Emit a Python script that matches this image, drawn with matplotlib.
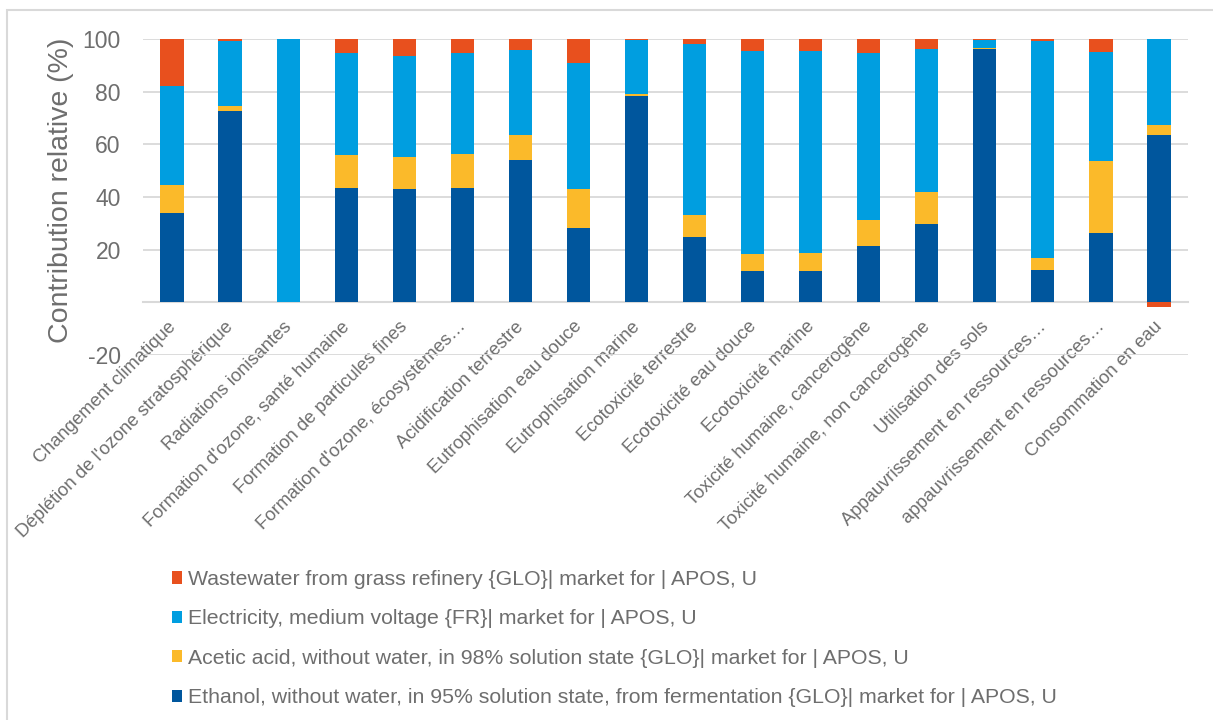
import matplotlib
matplotlib.use("Agg")
import matplotlib.pyplot as plt
from matplotlib.patches import Patch, Rectangle
from matplotlib.transforms import ScaledTranslation
import numpy as np

plt.rcParams["font.family"] = ["Liberation Sans", "DejaVu Sans"]

categories = [
    "Changement climatique",
    "Déplétion de l'ozone stratosphérique",
    "Radiations ionisantes",
    "Formation d'ozone, santé humaine",
    "Formation de particules fines",
    "Formation d'ozone, écosystèmes…",
    "Acidification terrestre",
    "Eutrophisation eau douce",
    "Eutrophisation marine",
    "Ecotoxicité terrestre",
    "Ecotoxicité eau douce",
    "Ecotoxicité marine",
    "Toxicité humaine, cancerogène",
    "Toxicité humaine, non cancerogène",
    "Utilisation des sols",
    "Appauvrissement en ressources…",
    "appauvrissement en ressources…",
    "Consommation en eau",
]

# relative contributions (%) per process
ethanol = np.array([34.0, 72.7, 0.0, 43.3, 43.0, 43.3, 54.1, 28.4, 78.2,
                    24.8, 11.9, 11.9, 21.4, 29.8, 96.3, 12.3, 26.2, 63.5])
acetic = np.array([10.7, 1.8, 0.0, 12.6, 12.1, 13.2, 9.5, 14.8, 0.8,
                   8.2, 6.4, 6.9, 9.8, 12.1, 0.3, 4.6, 27.4, 3.8])
electricity = np.array([37.3, 24.9, 100.0, 38.7, 38.3, 38.1, 32.1, 47.8, 20.8,
                        65.3, 77.3, 76.8, 63.6, 54.4, 3.2, 82.5, 41.3, 32.7])
wastewater = np.array([18.0, 0.6, 0.0, 5.4, 6.6, 5.4, 4.3, 9.0, 0.2,
                       1.7, 4.4, 4.4, 5.2, 3.7, 0.2, 0.6, 5.1, -1.8])

series_names = [
    "Ethanol, without water, in 95% solution state, from fermentation {GLO}| market for | APOS, U",
    "Acetic acid, without water, in 98% solution state {GLO}| market for | APOS, U",
    "Electricity, medium voltage {FR}| market for | APOS, U",
    "Wastewater from grass refinery {GLO}| market for | APOS, U",
]
series_colors = ["#00569D", "#FBBA2A", "#009EE0", "#E8501E"]

TEXT = "#6E6E6E"
GRID = "#D9D9D9"

fig = plt.figure(figsize=(12.13, 7.2), dpi=100)
ax = fig.add_axes([0.1179, 0.5069, 0.8615, 0.4389])

x = np.arange(len(categories))
w = 0.4
ax.bar(x, ethanol, w, color=series_colors[0], lw=0)
ax.bar(x, acetic, w, bottom=ethanol, color=series_colors[1], lw=0)
ax.bar(x, electricity, w, bottom=ethanol + acetic, color=series_colors[2], lw=0)
red_bottom = np.where(wastewater >= 0, ethanol + acetic + electricity, 0)
ax.bar(x, wastewater, w, bottom=red_bottom, color=series_colors[3], lw=0)

ax.set_xlim(-0.5, len(categories) - 0.5)
ax.set_ylim(-20, 100)
yt = [-20, 0, 20, 40, 60, 80, 100]
ax.set_yticks(yt)
ax.set_yticklabels(["" if v == 0 else str(v) for v in yt])
ax.grid(axis="y", color=GRID, lw=1.3)
ax.set_axisbelow(True)
for s in ["top", "right", "left"]:
    ax.spines[s].set_visible(False)
ax.spines["bottom"].set_position(("data", 0))
ax.spines["bottom"].set_color(GRID)
ax.spines["bottom"].set_linewidth(1.5)
ax.spines["bottom"].set_zorder(0.5)

ax.tick_params(axis="y", length=0, pad=16, labelsize=16.5, labelcolor=TEXT)
ax.tick_params(axis="x", length=0, pad=2, labelsize=13.2, labelcolor=TEXT)
ax.set_xticks(x)
ax.set_xticklabels(categories, rotation=45, ha="right", va="center",
                   rotation_mode="anchor")
off = ScaledTranslation(1 / 100, -19 / 100, fig.dpi_scale_trans)
for lbl in ax.get_xticklabels():
    lbl.set_transform(lbl.get_transform() + off)

ax.set_ylabel("Contribution relative (%)", fontsize=20.5, color=TEXT)
ax.yaxis.set_label_coords(-0.066, 0.522)

handles = [Patch(facecolor=c, edgecolor="none") for c in series_colors[::-1]]
fig.legend(handles, series_names[::-1], loc="upper left",
           bbox_to_anchor=(0.1329, 0.223), frameon=False, fontsize=15.3,
           labelcolor=TEXT, handlelength=0.5, handleheight=0.5,
           handletextpad=0.25, labelspacing=0.96, borderpad=0)

fig.add_artist(Rectangle((7 / 1213, -0.1), 1.2, 1.1 - 10 / 720,
                         transform=fig.transFigure, fill=False,
                         edgecolor=GRID, lw=1.5))

fig.savefig("out.png", dpi=100)
